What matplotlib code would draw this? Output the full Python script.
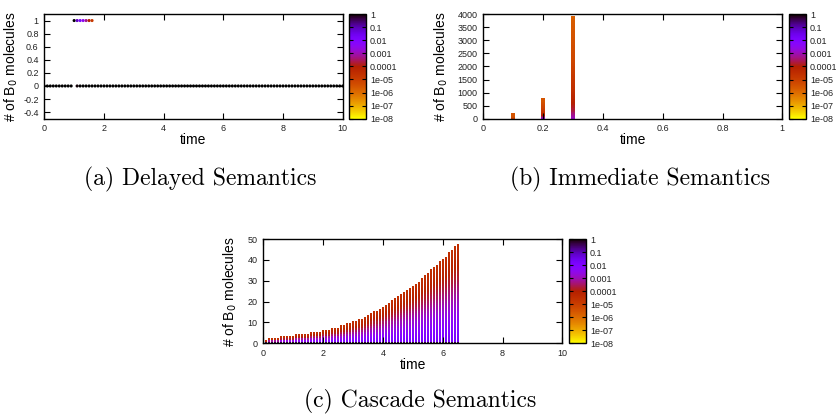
import numpy as np
import matplotlib.pyplot as plt
from matplotlib.colors import LogNorm
from matplotlib.ticker import FormatStrFormatter, MultipleLocator

plt.rcParams['font.family'] = ['Liberation Sans', 'DejaVu Sans']

W, H = 836, 415

cmap = plt.get_cmap('gnuplot_r')
norm = LogNorm(1e-8, 1)
cbar_ticks = [1, 0.1, 0.01, 0.001, 0.0001, 1e-05, 1e-06, 1e-07, 1e-08]
cbar_labels = ['1', '0.1', '0.01', '0.001', '0.0001', '1e-05', '1e-06', '1e-07', '1e-08']

# (a) delayed semantics: count 0 every 0.1 time unit (missing at t=1.0), count 1 briefly
delayed_t = np.round(np.arange(0, 10.01, 0.1), 1)
delayed_one_t = [1.0, 1.1, 1.2, 1.3, 1.4, 1.5, 1.6]
delayed_one_p = [1.0, 0.08, 0.015, 0.004, 6e-4, 1e-4, 1.5e-5]

# (b) immediate semantics: three columns of counts 0..max
immediate_t = [0.1, 0.2, 0.3]
immediate_max = [160, 740, 3860]
immediate_frac = [0.0, 0.1, 0.3, 0.6, 1.0]
immediate_p = [
    [2e-2, 5e-5, 1.5e-5, 6e-6, 3e-6],
    [1e-2, 2e-3, 5e-5, 1e-5, 3e-6],
    [2e-3, 2e-4, 3e-5, 6e-6, 2e-6],
]

# (c) cascade semantics: max count reached at each time step
cascade_t = np.round(np.arange(0, 6.51, 0.1), 1)
cascade_max = [0, 1, 2, 2, 2, 2, 3, 3, 3, 3, 3, 4, 4, 4, 4, 4, 5, 5, 5, 5,
               6, 6, 6, 7, 7, 7, 8, 8, 9, 9, 10, 10, 11, 11, 12, 13, 14, 15, 15, 16,
               17, 18, 19, 20, 21, 22, 23, 24, 25, 26, 27, 28, 29, 31, 32, 33, 35, 36, 37, 39,
               40, 41, 43, 44, 46, 47]
cascade_p0 = 0.5
cascade_frac = [0.0, 0.2, 0.45, 0.65, 1.0]
cascade_p = [2e-2, 6e-3, 1e-3, 2e-4, 3e-5]


def px_rect(x0, y0, x1, y1):
    return [x0 / W, 1 - y1 / H, (x1 - x0) / W, (y1 - y0) / H]


def style_axes(ax, ylab_x):
    for s in ax.spines.values():
        s.set_linewidth(1.0)
    ax.tick_params(direction='in', top=True, right=True, length=4, width=0.8,
                   labelsize=6.5, labelcolor='#222222', pad=4)
    ax.xaxis.set_major_formatter(FormatStrFormatter('%g'))
    ax.yaxis.set_major_formatter(FormatStrFormatter('%g'))
    ax.set_xlabel('time', fontsize=10)
    ax.set_ylabel('# of B$_0$ molecules', fontsize=10)
    ax.xaxis.set_label_coords(0.5, -0.14)
    ax.yaxis.set_label_coords(ylab_x, 0.5)


def add_cbar(fig, rect):
    cax = fig.add_axes(px_rect(*rect))
    sm = plt.cm.ScalarMappable(norm=norm, cmap=cmap)
    cb = fig.colorbar(sm, cax=cax)
    cb.set_ticks(cbar_ticks)
    cb.set_ticklabels(cbar_labels)
    cb.minorticks_off()
    cb.outline.set_linewidth(1.0)
    cax.tick_params(direction='in', left=True, right=True, length=3, width=0.8,
                    labelsize=6.5, labelcolor='#222222', pad=3)
    return cb


fig = plt.figure(figsize=(W / 100, H / 100), dpi=100)

# ---- (a)
ax1 = fig.add_axes(px_rect(44.3, 14, 342.7, 118.7))
zero_t = [t for t in delayed_t if t != 1.0]
zero_p = []
for t in zero_t:
    if t in delayed_one_t:
        zero_p.append(1 - delayed_one_p[delayed_one_t.index(t)])
    else:
        zero_p.append(1.0)
ax1.scatter(zero_t, np.zeros(len(zero_t)), c=zero_p, cmap=cmap, norm=norm,
            marker='o', s=5, linewidths=0)
ax1.scatter(delayed_one_t, np.ones(len(delayed_one_t)), c=delayed_one_p, cmap=cmap,
            norm=norm, marker='o', s=5, linewidths=0)
ax1.set_xlim(0, 10)
ax1.set_ylim(-0.5, 1.1)
ax1.xaxis.set_major_locator(MultipleLocator(2))
ax1.set_yticks([-0.4, -0.2, 0, 0.2, 0.4, 0.6, 0.8, 1])
style_axes(ax1, -0.08)
add_cbar(fig, (349.3, 14, 365.7, 118.7))

# ---- (b)
ax2 = fig.add_axes(px_rect(483.3, 14.3, 782.3, 118.7))
for t, kmax, prof in zip(immediate_t, immediate_max, immediate_p):
    ks = np.arange(0, kmax + 1)
    logp = np.interp(ks / kmax, immediate_frac, np.log10(prof))
    ax2.scatter(np.full(len(ks), t), ks, c=10 ** logp, cmap=cmap, norm=norm,
                marker='s', s=7, linewidths=0)
ax2.set_xlim(0, 1)
ax2.set_ylim(0, 4000)
ax2.xaxis.set_major_locator(MultipleLocator(0.2))
ax2.yaxis.set_major_locator(MultipleLocator(500))
style_axes(ax2, -0.112)
add_cbar(fig, (789.3, 14.3, 805.7, 118.7))

# ---- (c)
ax3 = fig.add_axes(px_rect(263.3, 239, 562.3, 343.3))
xs, ys, ps = [], [], []
for t, kmax in zip(cascade_t, cascade_max):
    ks = np.arange(0, kmax + 1)
    logp = np.interp(ks / max(kmax, 1), cascade_frac, np.log10(cascade_p))
    logp[0] = np.log10(cascade_p0)
    xs.extend([t] * len(ks))
    ys.extend(ks)
    ps.extend(10 ** logp)
ax3.scatter(xs, ys, c=ps, cmap=cmap, norm=norm, marker='s', s=2.6, linewidths=0)
ax3.set_xlim(0, 10)
ax3.set_ylim(0, 50)
ax3.xaxis.set_major_locator(MultipleLocator(2))
ax3.yaxis.set_major_locator(MultipleLocator(10))
style_axes(ax3, -0.08)
add_cbar(fig, (569.3, 239, 585.7, 343.3))

# captions
cap_kw = dict(family='cmr10', fontsize=17, ha='center', va='center')
fig.text(200 / W, 1 - 179 / H, '(a) Delayed Semantics', **cap_kw)
fig.text(640.5 / W, 1 - 179 / H, '(b) Immediate Semantics', **cap_kw)
fig.text(420 / W, 1 - 401 / H, '(c) Cascade Semantics', **cap_kw)

fig.savefig('out.png', dpi=100)
